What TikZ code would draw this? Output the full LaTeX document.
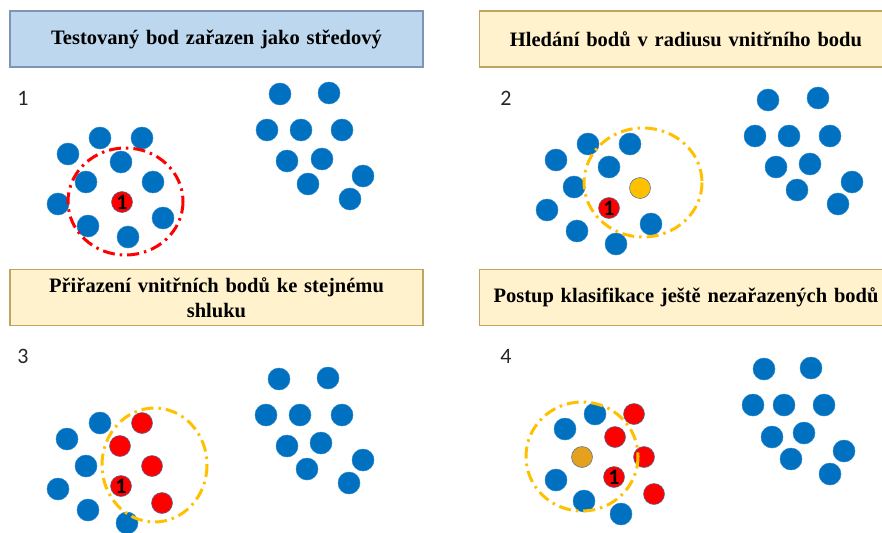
\documentclass[tikz,border=0pt]{standalone}
\usepackage{fontspec}
\setmainfont{Liberation Serif}
\newfontfamily\numfont{Carlito}
\definecolor{dotblue}{HTML}{0070C0}
\definecolor{dotred}{HTML}{FF0000}
\definecolor{dotyellow}{HTML}{FFC000}
\definecolor{dotorange}{HTML}{E5A01E}
\definecolor{dotrim}{HTML}{41719C}
\definecolor{boxblue}{HTML}{BDD7EE}
\definecolor{boxblueedge}{HTML}{7F95B8}
\definecolor{boxcream}{HTML}{FFF2CC}
\definecolor{boxcreamedge}{HTML}{C0A560}
\begin{document}
\begin{tikzpicture}[x=1pt,y=-1pt,
  titlebox/.style={line width=1.5pt, minimum width=413pt, minimum height=56pt,
    inner sep=0pt, text width=405pt, align=center,
    font=\fontsize{20.5}{25}\selectfont\bfseries},
  bluetitle/.style={titlebox, draw=boxblueedge, fill=boxblue},
  creamtitle/.style={titlebox, draw=boxcreamedge, fill=boxcream},
  dotbase/.style={circle, inner sep=0pt, draw=dotrim, line width=0.5pt,
    font=\numfont\bfseries\fontsize{22}{22}\selectfont},
  bdot/.style={dotbase, fill=dotblue, draw=dotblue!85!white, minimum size=22pt},
  rdot/.style={dotbase, fill=dotred, minimum size=21pt},
  ydot/.style={dotbase, fill=dotyellow, minimum size=21pt},
  odot/.style={dotbase, fill=dotorange, minimum size=21pt},
  steplabel/.style={font=\numfont\fontsize{22}{22}\selectfont, text=black!85},
  ringbase/.style={line width=3pt, dash pattern=on 12pt off 5pt on 2.5pt off 5pt},
  redring/.style={ringbase, draw=dotred},
  yellowring/.style={ringbase, draw=dotyellow}
]
\useasboundingbox (0,0) rectangle (882,532);
\clip (0,0) rectangle (882,532);

% ---------- titles ----------
\node[bluetitle]  (t1) at (216.5,39) {Testovaný bod zařazen jako středový};
\node[creamtitle] (t2) at (686,39) {Hledání bodů v radiusu vnitřního bodu};
\node[creamtitle] (t3) at (216.5,297.5) {Přiřazení vnitřních bodů ke stejnému\\shluku};
\node[creamtitle] (t4) at (686,297.5) {Postup klasifikace ještě nezařazených bodů};

% ---------- step numbers ----------
\node[steplabel] (n1) at (23,98) {1};
\node[steplabel] (n2) at (506,98) {2};
\node[steplabel] (n3) at (23,356) {3};
\node[steplabel] (n4) at (506,356) {4};

% ---------- step 1 ----------
\foreach \i/\p in {1/{(100,138)},2/{(142,138)},3/{(68,154)},4/{(121,162)},5/{(86,182)},
  6/{(153,182)},7/{(58,204)},8/{(163,218)},9/{(88,226)},10/{(128,237)}}
  \node[bdot] (a\i) at \p {};
\node[rdot] (ac) at (122,202) {1};
\foreach \i/\p in {1/{(280,94)},2/{(329,93)},3/{(267,130)},4/{(301,130)},5/{(342,130)},
  6/{(287,161)},7/{(322,159)},8/{(308,184)},9/{(363,176)},10/{(350,199)}}
  \node[bdot] (ar\i) at \p {};
\draw[redring] (125.5,201.5) ellipse [x radius=57.5, y radius=53.5];

% ---------- step 2 ----------
\foreach \i/\p in {1/{(588,144)},2/{(630,144)},3/{(556,160)},4/{(609,167)},5/{(574,187)},
  6/{(547,210)},7/{(651,224)},8/{(577,231)},9/{(616,244)}}
  \node[bdot] (b\i) at \p {};
\node[ydot] (by) at (640,188) {};
\node[rdot] (bc) at (609,208) {1};
\foreach \i/\p in {1/{(768,100)},2/{(818,98)},3/{(755,136)},4/{(789,136)},5/{(830,136)},
  6/{(776,167)},7/{(810,164)},8/{(797,190)},9/{(852,182)},10/{(838,204)}}
  \node[bdot] (br\i) at \p {};
\draw[yellowring] (643,182.5) ellipse [x radius=59, y radius=54.5];

% ---------- step 3 ----------
\foreach \i/\p in {1/{(100,423)},2/{(67,439)},3/{(86,466)},4/{(58,489)},5/{(88,510)},6/{(127,523)}}
  \node[bdot] (c\i) at \p {};
\foreach \i/\p in {1/{(142,423)},2/{(120,446)},3/{(152,466)},4/{(162,503)}}
  \node[rdot] (cr\i) at \p {};
\node[rdot] (cc) at (121,486) {1};
\foreach \i/\p in {1/{(279,379)},2/{(328,378)},3/{(266,415)},4/{(300,415)},5/{(342,415)},
  6/{(287,446)},7/{(321,443)},8/{(307,469)},9/{(363,460)},10/{(349,483)}}
  \node[bdot] (cq\i) at \p {};
\draw[yellowring] (154.5,465) ellipse [x radius=52.5, y radius=57];

% ---------- step 4 ----------
\foreach \i/\p in {1/{(595,414)},2/{(565,429)},3/{(556,480)},4/{(584,501)},5/{(621,514)}}
  \node[bdot] (d\i) at \p {};
\foreach \i/\p in {1/{(634,414)},2/{(615,437)},3/{(644,457)},4/{(654,494)}}
  \node[rdot] (dr\i) at \p {};
\node[odot] (do) at (582,457) {};
\node[rdot] (dc) at (614,477) {1};
\foreach \i/\p in {1/{(764,369)},2/{(811,368)},3/{(753,405)},4/{(784,405)},5/{(824,405)},
  6/{(772,437)},7/{(804,433)},8/{(791,459)},9/{(844,451)},10/{(830,474)}}
  \node[bdot] (dq\i) at \p {};
\draw[yellowring] (582,456.5) ellipse [x radius=56, y radius=54.5];
\end{tikzpicture}
\end{document}
